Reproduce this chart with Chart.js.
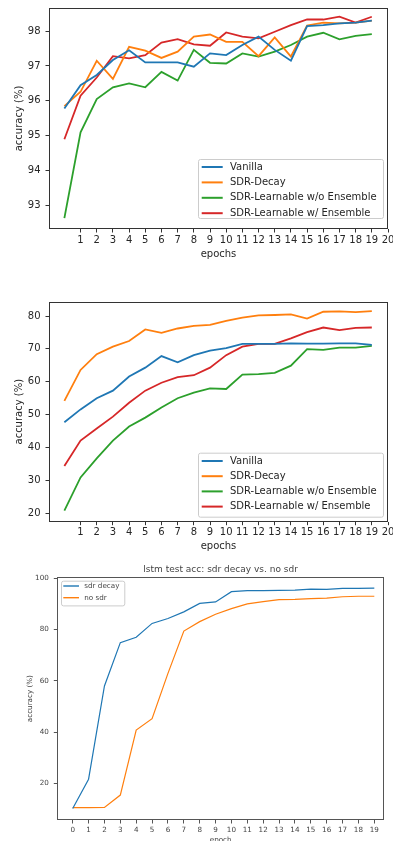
<!DOCTYPE html>
<html lang="en">
<head>
<meta charset="UTF-8" />
<title>SDR accuracy charts</title>
<script src="https://cdn.jsdelivr.net/npm/chart.js"></script>
<style>
  body {
    margin: 0;
    background: #fff;
    overflow: hidden;
    width: 393px;
    height: 841px;
    position: relative;
  }
  canvas { position: absolute; left: 0; }
  #acc1 { top: 0; }
  #acc2 { top: 270px; }
  #lstm { top: 560px; }
</style>
</head>
<body>
<canvas id="acc1" width="393" height="270"></canvas>
<canvas id="acc2" width="393" height="290"></canvas>
<canvas id="lstm" width="393" height="290"></canvas>

<script>
  // ---- data ----
  const epochs = [0, 1, 2, 3, 4, 5, 6, 7, 8, 9, 10, 11, 12, 13, 14, 15, 16, 17, 18, 19];
  const seriesNames = ['Vanilla', 'SDR-Decay', 'SDR-Learnable w/o Ensemble', 'SDR-Learnable w/ Ensemble'];
  const seriesColors = ['#1f77b4', '#ff7f0e', '#2ca02c', '#d62728'];

  // top plot
  const vanillaTop = [95.78, 96.45, 96.74, 97.17, 97.45, 97.1, 97.1, 97.1, 96.98, 97.36, 97.31, 97.6, 97.84, 97.46, 97.15, 98.14, 98.17, 98.22, 98.24, 98.3];
  const decayTop   = [95.85, 96.26, 97.15, 96.63, 97.55, 97.44, 97.23, 97.41, 97.84, 97.9, 97.69, 97.69, 97.28, 97.82, 97.27, 98.16, 98.24, 98.22, 98.24, 98.3];
  const learnTop   = [92.64, 95.1, 96.05, 96.39, 96.5, 96.39, 96.83, 96.58, 97.46, 97.09, 97.07, 97.36, 97.27, 97.41, 97.6, 97.84, 97.95, 97.76, 97.86, 97.91];
  const ensTop     = [94.9, 96.15, 96.67, 97.28, 97.22, 97.31, 97.67, 97.77, 97.62, 97.58, 97.96, 97.84, 97.79, 97.98, 98.17, 98.33, 98.33, 98.41, 98.24, 98.41];
  const yTicksTop = [93, 94, 95, 96, 97, 98];

  // middle plot
  const vanillaMid = [47.7, 51.6, 55.0, 57.3, 61.6, 64.3, 67.8, 65.9, 68.1, 69.5, 70.2, 71.5, 71.5, 71.5, 71.7, 71.6, 71.6, 71.7, 71.7, 71.2];
  const decayMid   = [54.2, 63.6, 68.4, 70.7, 72.4, 75.9, 74.9, 76.2, 77.0, 77.3, 78.5, 79.5, 80.2, 80.3, 80.5, 79.2, 81.3, 81.4, 81.2, 81.5];
  const learnMid   = [20.8, 30.9, 36.7, 42.1, 46.4, 49.1, 52.2, 55.0, 56.7, 58.0, 57.8, 62.2, 62.3, 62.7, 64.9, 69.9, 69.7, 70.4, 70.4, 70.9];
  const ensMid     = [34.4, 42.1, 45.8, 49.4, 53.6, 57.3, 59.7, 61.4, 62.0, 64.3, 68.1, 70.7, 71.5, 71.5, 73.2, 75.1, 76.5, 75.7, 76.4, 76.5];
  const yTicksMid = [20, 30, 40, 50, 60, 70, 80];

  const xTicksEpochs = [1, 2, 3, 4, 5, 6, 7, 8, 9, 10, 11, 12, 13, 14, 15, 16, 17, 18, 19, 20];

  // lstm plot
  const lstmNames = ['sdr decay', 'no sdr'];
  const lstmColors = ['#1f77b4', '#ff7f0e'];
  const sdrDecay = [10.2, 21.6, 58.0, 74.9, 77.0, 82.4, 84.3, 86.9, 90.2, 90.8, 94.8, 95.2, 95.2, 95.3, 95.4, 95.8, 95.7, 96.1, 96.1, 96.2];
  const noSdr    = [10.5, 10.5, 10.6, 15.4, 40.8, 45.2, 62.9, 79.4, 83.1, 86.0, 88.2, 90.0, 90.9, 91.7, 91.8, 92.1, 92.3, 92.8, 93.0, 93.0];
  const xTicksLstm = [0, 1, 2, 3, 4, 5, 6, 7, 8, 9, 10, 11, 12, 13, 14, 15, 16, 17, 18, 19];
  const yTicksLstm = [20, 40, 60, 80, 100];

  Chart.defaults.font.family = '"DejaVu Sans", sans-serif';

  // box around the axes + matplotlib-style legend inside the plot
  const frameAndLegend = {
    id: 'frameAndLegend',
    afterDatasetsDraw(chart, args, opts) {
      const { ctx, chartArea: a } = chart;
      ctx.save();
      ctx.strokeStyle = opts.frameColor;
      ctx.lineWidth = 1;
      const l = Math.round(a.left), t = Math.round(a.top);
      ctx.strokeRect(l + 0.5, t + 0.5, Math.round(a.right) - l - 1, Math.round(a.bottom) - t - 1);

      const lg = opts.legend;
      ctx.beginPath();
      ctx.roundRect(lg.x + 0.5, lg.y + 0.5, lg.w, lg.h, 2);
      ctx.fillStyle = 'rgba(255,255,255,0.8)';
      ctx.fill();
      ctx.strokeStyle = '#cccccc';
      ctx.stroke();

      ctx.font = lg.fontSize + 'px "DejaVu Sans", sans-serif';
      ctx.textBaseline = 'middle';
      chart.data.datasets.forEach((ds, i) => {
        const y = lg.firstRow + i * lg.rowGap;
        ctx.strokeStyle = ds.borderColor;
        ctx.lineWidth = ds.borderWidth + 0.2;
        ctx.beginPath();
        ctx.moveTo(lg.lineX0, y);
        ctx.lineTo(lg.lineX1, y);
        ctx.stroke();
        ctx.fillStyle = opts.textColor;
        ctx.fillText(ds.label, lg.textX, y);
      });
      ctx.restore();
    }
  };

  function buildChart(id, o) {
    const tickFont = { size: o.fontSize };
    return new Chart(document.getElementById(id), {
      type: 'line',
      data: {
        datasets: o.series.map((vals, i) => ({
          label: o.names[i],
          data: o.x.map((e, j) => ({ x: e, y: vals[j] })),
          borderColor: o.colors[i],
          borderWidth: o.lineWidth,
          pointRadius: 0,
          tension: 0,
          fill: false
        }))
      },
      options: {
        responsive: false,
        animation: false,
        devicePixelRatio: 1,
        layout: { padding: o.padding },
        plugins: {
          legend: { display: false },
          tooltip: { enabled: false },
          title: o.title || { display: false },
          frameAndLegend: { frameColor: o.frameColor, textColor: o.textColor, legend: o.legend }
        },
        scales: {
          x: {
            type: 'linear',
            min: o.xMin,
            max: o.xMax,
            afterBuildTicks: s => { s.ticks = o.xTicks.map(v => ({ value: v })); },
            afterFit: s => { s.height = o.xAxisHeight; s.paddingLeft = 0; s.paddingRight = 0; },
            ticks: { autoSkip: false, maxRotation: 0, padding: o.xTickPad, color: o.textColor, font: tickFont },
            grid: { drawOnChartArea: false, drawTicks: true, tickLength: 3.5, color: o.frameColor },
            border: { display: false },
            title: { display: true, text: o.xTitle, color: o.textColor, font: tickFont, padding: { top: 0, bottom: o.xTitlePad } }
          },
          y: {
            min: o.yMin,
            max: o.yMax,
            afterBuildTicks: s => { s.ticks = o.yTicks.map(v => ({ value: v })); },
            afterFit: s => { s.width = o.yAxisWidth; s.paddingTop = 0; s.paddingBottom = 0; },
            ticks: { padding: 5, color: o.textColor, font: tickFont },
            grid: { drawOnChartArea: false, drawTicks: true, tickLength: 3.5, color: o.frameColor },
            border: { display: false },
            title: { display: true, text: 'accuracy (%)', color: o.textColor, font: tickFont, padding: { top: o.yTitlePad, bottom: 0 } }
          }
        }
      },
      plugins: [frameAndLegend]
    });
  }

  buildChart('acc1', {
    x: epochs, names: seriesNames, colors: seriesColors,
    series: [vanillaTop, decayTop, learnTop, ensTop],
    xTicks: xTicksEpochs, yTicks: yTicksTop,
    xMin: -0.95, xMax: 20, yMin: 92.33, yMax: 98.66,
    padding: { top: 8, right: 5, left: 0, bottom: 0 },
    xAxisHeight: 41, yAxisWidth: 49, xTickPad: 1.5, xTitlePad: 9.7, yTitlePad: 13,
    xTitle: 'epochs', fontSize: 10, lineWidth: 1.8,
    frameColor: '#333333', textColor: '#262626',
    legend: { x: 198, y: 159, w: 185, h: 59, firstRow: 167, rowGap: 15.4, lineX0: 201.7, lineX1: 222.7, textX: 230, fontSize: 10 }
  });

  buildChart('acc2', {
    x: epochs, names: seriesNames, colors: seriesColors,
    series: [vanillaMid, decayMid, learnMid, ensMid],
    xTicks: xTicksEpochs, yTicks: yTicksMid,
    xMin: -0.95, xMax: 20, yMin: 17.45, yMax: 84.35,
    padding: { top: 31.7, right: 5, left: 0, bottom: 0 },
    xAxisHeight: 38.3, yAxisWidth: 49, xTickPad: 1.5, xTitlePad: 7.3, yTitlePad: 13,
    xTitle: 'epochs', fontSize: 10, lineWidth: 1.8,
    frameColor: '#333333', textColor: '#262626',
    legend: { x: 198, y: 182.7, w: 185, h: 64, firstRow: 191, rowGap: 15.2, lineX0: 201.7, lineX1: 222.7, textX: 230, fontSize: 10 }
  });

  buildChart('lstm', {
    x: epochs, names: lstmNames, colors: lstmColors,
    series: [sdrDecay, noSdr],
    xTicks: xTicksLstm, yTicks: yTicksLstm,
    xMin: -0.97, xMax: 19.61, yMin: 5.68, yMax: 100.4,
    padding: { top: 0, right: 9, left: 0, bottom: 0 },
    xAxisHeight: 30, yAxisWidth: 57.3, xTickPad: 2, xTitlePad: 5.7, yTitlePad: 25.7,
    xTitle: 'epoch', fontSize: 7.2, lineWidth: 1.2,
    frameColor: '#555555', textColor: '#444444',
    title: {
      display: true, text: 'lstm test acc: sdr decay vs. no sdr', fullSize: false,
      color: '#444444', font: { size: 9, weight: 'normal' }, padding: { top: 4, bottom: 2.5 }
    },
    legend: { x: 61, y: 20.7, w: 63.3, h: 24.7, firstRow: 26, rowGap: 11.7, lineX0: 63.3, lineX1: 79, textX: 84.3, fontSize: 7.2 }
  });
</script>
</body>
</html>
